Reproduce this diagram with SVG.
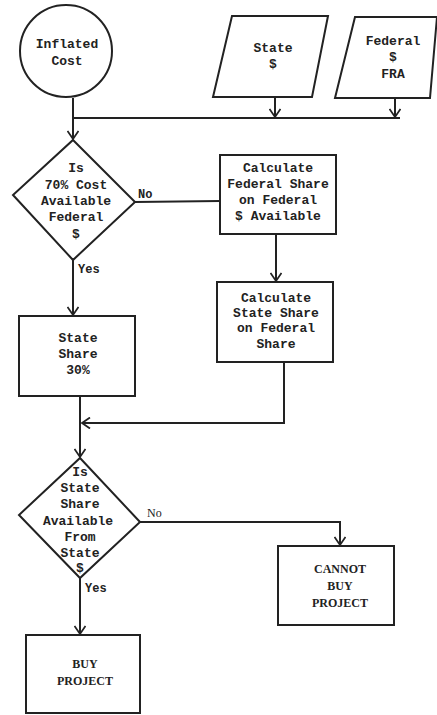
<svg xmlns="http://www.w3.org/2000/svg" width="437" height="715" viewBox="0 0 437 715">
  <defs>
    <marker id="arrow" viewBox="-10 -6 12 12" refX="0" refY="0" markerWidth="12" markerHeight="12" markerUnits="userSpaceOnUse" orient="auto">
      <path d="M-8,-5.5 L0,0 L-8,5.5" fill="none" stroke="#222" stroke-width="1.8"/>
    </marker>
    <style>
      .shape { fill: #fff; stroke: #222; stroke-width: 2; }
      .wire { fill: none; stroke: #222; stroke-width: 2; }
      .mono { font-family: "Liberation Mono", "Courier New", monospace; font-size: 13px; font-weight: bold; fill: #222; text-anchor: middle; }
      .serif { font-family: "Liberation Serif", "Times New Roman", serif; font-size: 12px; font-weight: bold; fill: #222; text-anchor: middle; }
      .lbl { font-family: "Liberation Mono", "Courier New", monospace; font-size: 12px; font-weight: bold; fill: #222; }
    </style>
  </defs>
  <rect width="437" height="715" fill="#fff"/>

  <!-- connectors -->
  <g id="connectors">
    <path class="wire" d="M73,98 V118 H400"/>
    <path class="wire" d="M73,118 V139" marker-end="url(#arrow)"/>
    <path class="wire" d="M275,97 V117" marker-end="url(#arrow)"/>
    <path class="wire" d="M395,98 V117" marker-end="url(#arrow)"/>
    <path class="wire" d="M135,202 L220,201"/>
    <path class="wire" d="M276,234 V281" marker-end="url(#arrow)"/>
    <path class="wire" d="M73,260 V315" marker-end="url(#arrow)"/>
    <path class="wire" d="M284,362 V423 H82" marker-end="url(#arrow)"/>
    <path class="wire" d="M80,396 V457" marker-end="url(#arrow)"/>
    <path class="wire" d="M140,522 H340 V545" marker-end="url(#arrow)"/>
    <path class="wire" d="M80,578 V634" marker-end="url(#arrow)"/>
    <text class="lbl" x="138" y="198">No</text>
    <text class="lbl" x="78" y="273">Yes</text>
    <text class="serif" x="147" y="517" style="text-anchor:start;font-weight:normal">No</text>
    <text class="lbl" x="85" y="592">Yes</text>
  </g>

  <g id="inflated-cost">
    <circle class="shape" cx="66" cy="51" r="46"/>
    <text class="mono" x="67" y="48">Inflated</text>
    <text class="mono" x="67" y="65">Cost</text>
  </g>

  <g id="state-funds">
    <polygon class="shape" points="232,16 328,16 312,97 213,97"/>
    <text class="mono" x="273" y="52">State</text>
    <text class="mono" x="273" y="68">$</text>
  </g>

  <g id="federal-funds">
    <polygon class="shape" points="355,17 437,17 430,98 335,98"/>
    <text class="mono" x="393" y="45">Federal</text>
    <text class="mono" x="393" y="61">$</text>
    <text class="mono" x="393" y="78">FRA</text>
  </g>

  <g id="federal-check">
    <polygon class="shape" points="73,140 135,202 73,260 13,195"/>
    <text class="mono" x="76" y="172">Is</text>
    <text class="mono" x="76" y="189">70% Cost</text>
    <text class="mono" x="76" y="205">Available</text>
    <text class="mono" x="76" y="221">Federal</text>
    <text class="mono" x="76" y="238">$</text>
  </g>

  <g id="calc-federal">
    <rect class="shape" x="220" y="155" width="116" height="79"/>
    <text class="mono" x="278" y="172">Calculate</text>
    <text class="mono" x="278" y="188">Federal Share</text>
    <text class="mono" x="278" y="204">on Federal</text>
    <text class="mono" x="278" y="220">$ Available</text>
  </g>

  <g id="calc-state">
    <rect class="shape" x="217" y="282" width="116" height="80"/>
    <text class="mono" x="276" y="302">Calculate</text>
    <text class="mono" x="276" y="317">State Share</text>
    <text class="mono" x="276" y="332">on Federal</text>
    <text class="mono" x="276" y="348">Share</text>
  </g>

  <g id="state-share">
    <rect class="shape" x="19" y="316" width="116" height="80"/>
    <text class="mono" x="78" y="342">State</text>
    <text class="mono" x="78" y="358">Share</text>
    <text class="mono" x="78" y="374">30%</text>
  </g>

  <g id="state-check">
    <polygon class="shape" points="80,458 140,522 80,578 19,515"/>
    <text class="mono" x="80" y="476">Is</text>
    <text class="mono" x="80" y="492">State</text>
    <text class="mono" x="80" y="508">Share</text>
    <text class="mono" x="78" y="525">Available</text>
    <text class="mono" x="80" y="541">From</text>
    <text class="mono" x="80" y="557">State</text>
    <text class="mono" x="80" y="572">$</text>
  </g>

  <g id="cannot-buy">
    <rect class="shape" x="278" y="546" width="116" height="79"/>
    <text class="serif" x="340" y="573">CANNOT</text>
    <text class="serif" x="340" y="590">BUY</text>
    <text class="serif" x="340" y="607">PROJECT</text>
  </g>

  <g id="buy-project">
    <rect class="shape" x="26" y="635" width="114" height="78"/>
    <text class="serif" x="85" y="668">BUY</text>
    <text class="serif" x="85" y="685">PROJECT</text>
  </g>
</svg>
